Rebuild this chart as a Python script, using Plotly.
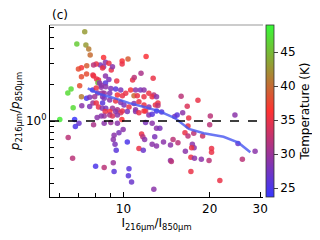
import plotly.graph_objects as go

# intensity ratio I216/I850
x_ratio = [7.33, 6.88, 7.40, 7.57, 7.66, 8.53, 8.66, 8.53, 8.31, 8.04, 7.45, 7.14, 6.97, 8.90, 9.07, 9.16, 9.90, 9.90, 10.38, 12.00,
           7.44, 7.14, 7.87, 8.06, 8.19, 8.15, 8.66, 8.90, 8.66, 8.37, 9.48, 10.77, 10.91, 11.52, 12.70, 7.04, 6.57, 6.40, 7.14, 6.68,
           7.16, 7.63, 7.44, 7.63, 7.81, 8.04, 8.26, 8.37, 8.13, 8.44, 8.46, 7.94, 7.83, 8.04, 8.19, 8.46, 8.44, 7.87, 8.46, 7.83,
           8.68, 9.04, 9.40, 9.79, 10.19, 10.60, 11.03, 11.47, 11.80, 12.27, 12.77, 9.53, 9.92, 10.89, 11.18, 11.80, 12.60, 8.57, 8.96,
           8.57, 8.96, 9.40, 9.79, 10.05, 10.46, 10.89, 11.33, 11.80, 12.27, 12.93, 8.68, 9.16, 9.53, 9.92, 11.03, 11.95,
           8.64, 8.97, 9.40, 9.79, 10.32, 11.03, 11.33, 11.80, 12.27, 12.60, 8.57, 8.96, 9.16, 9.53, 8.57, 9.04, 9.53, 9.88, 11.95, 12.60,
           9.98, 9.65, 9.28, 9.22, 9.35, 9.44, 10.32, 11.57, 11.69, 11.86, 11.33, 11.73, 12.60, 12.86, 9.22, 8.57, 9.28, 10.46, 10.41, 10.68, 12.77,
           6.00, 6.76, 7.00, 6.80, 6.42, 7.87, 8.10, 8.37, 6.65, 8.00,
           15.9, 18.2, 16.7, 13.05, 13.2, 13.2, 13.05, 13.6, 16.1, 20.1, 24.5, 15.1, 15.4, 16.9,
           13.05, 13.4, 16.8, 16.4, 16.8, 17.6, 18.9, 14.9, 13.8, 14.6, 15.5, 17.4, 17.65, 17.3, 13.05, 16.45, 14.6, 14.7, 17.2, 17.7,
           18.7, 19.9, 17.2, 21.7, 20.3, 20.3, 20.0, 25.1, 26.0, 28.8]

# polarization ratio p216/p850
p_ratio = [5.55, 4.38, 4.30, 3.98, 3.55, 3.39, 3.09, 2.83, 2.93, 2.99, 2.89, 2.78, 2.71, 3.03, 2.66, 2.83, 3.16, 2.99, 3.28, 3.44,
           2.46, 2.34, 2.37, 2.24, 2.20, 2.08, 2.37, 2.22, 2.07, 1.91, 2.16, 2.20, 2.31, 2.50, 2.27, 1.97, 1.85, 1.71, 1.59, 1.29,
           1.34, 1.32, 1.55, 1.58, 1.81, 1.88, 2.07, 1.99, 1.71, 1.71, 1.59, 1.59, 1.41, 1.41, 1.31, 1.41, 1.28, 2.93, 2.77, 2.42,
           1.93, 1.87, 1.85, 1.81, 1.70, 1.81, 1.81, 1.81, 1.81, 1.70, 1.65, 1.65, 1.62, 1.62, 1.62, 1.59, 1.59, 1.70, 1.70,
           1.55, 1.50, 1.47, 1.43, 1.36, 1.31, 1.40, 1.45, 1.36, 1.31, 1.36, 1.28, 1.28, 1.24, 1.21, 1.24, 1.21,
           1.20, 1.20, 1.20, 1.17, 1.20, 1.20, 1.17, 1.21, 1.12, 1.14, 1.10, 1.12, 1.10, 1.12, 0.96, 0.97, 0.96, 1.03, 0.97, 0.96,
           0.85, 0.80, 0.76, 0.70, 0.64, 0.57, 0.67, 0.78, 0.74, 0.70, 0.59, 0.57, 0.64, 0.74, 0.45, 0.41, 0.38, 0.40, 0.35, 0.31, 0.27,
           1.03, 1.03, 0.96, 0.90, 0.73, 0.93, 1.07, 1.10, 0.49, 0.42,
           1.61, 1.49, 1.33, 1.59, 1.41, 1.35, 1.21, 1.19, 1.17, 1.10, 1.12, 1.09, 1.12, 1.06,
           0.87, 0.87, 0.91, 0.80, 0.75, 0.79, 0.75, 0.70, 0.67, 0.63, 0.66, 0.64, 0.60, 0.60, 0.62, 0.56, 0.47, 0.46, 0.50, 0.49,
           0.48, 0.47, 0.38, 0.32, 0.59, 0.55, 0.93, 0.65, 0.48, 0.56]

# dust temperature (K)
temp = [43, 46, 43, 41, 40, 36, 29, 29, 28, 35, 39, 36, 38, 35, 35, 29, 36, 35, 39, 36,
        38, 38, 36, 35, 35, 45, 29, 28, 26, 29, 35, 35, 32, 31, 35, 38, 47, 47, 41, 47,
        29, 28, 25, 28, 25, 35, 29, 29, 29, 30, 29, 30, 30, 35, 35, 26, 29, 32, 35, 35,
        29, 28, 26, 28, 35, 36, 29, 28, 29, 35, 32, 36, 35, 40, 35, 35, 35, 30, 28,
        28, 29, 35, 29, 28, 35, 29, 35, 35, 29, 35, 28, 30, 31, 35, 29, 34,
        35, 36, 29, 34, 28, 29, 35, 36, 29, 26, 30, 31, 34, 29, 29, 30, 29, 36, 28, 29,
        29, 28, 29, 29, 28, 26, 25, 35, 32, 29, 35, 27, 29, 28, 30, 32, 26, 26, 26, 27, 29,
        48, 24, 27, 25, 32, 31, 29, 29, 32, 25,
        32, 35, 34, 29, 35, 32, 25, 26, 29, 32, 29, 28, 26, 35,
        29, 28, 35, 35, 32, 32, 33, 32, 29, 29, 32, 29, 29, 35, 29, 29, 29, 32, 35, 29,
        29, 32, 35, 35, 35, 35, 32, 27, 32, 29]

# binned trend line
trend_x = [7.51, 8.26, 9.31, 10.49, 11.82, 13.32, 15.13, 16.92, 19.07, 22.35, 25.19, 27.72]
trend_y = [1.87, 1.68, 1.55, 1.41, 1.31, 1.21, 1.06, 0.86, 0.79, 0.74, 0.66, 0.55]

x_ticks = [10, 20, 30]
x_minor = [6, 7, 8, 9]
y_minor = [0.3, 0.4, 0.5, 0.6, 0.7, 0.8, 0.9, 2, 3, 4, 5, 6]
cbar_ticks = [25, 30, 35, 40, 45]

FONT = "DejaVu Sans"
colorscale = [[0, "rgb(55,55,255)"], [0.5, "rgb(255,50,50)"], [1, "rgb(55,250,55)"]]

fig = go.Figure()
fig.add_trace(go.Scatter(
    x=x_ratio, y=p_ratio, mode="markers",
    marker=dict(size=5.5, color=temp, colorscale=colorscale, cmin=23.7, cmax=49,
                opacity=0.85, line=dict(width=0),
                colorbar=dict(x=1.014, xanchor="left", y=0.5, yanchor="middle",
                              xpad=0, ypad=0,
                              len=1, lenmode="fraction", thickness=8,
                              outlinewidth=0.8, outlinecolor="#333",
                              tickvals=cbar_ticks, ticks="outside", ticklen=4,
                              tickfont=dict(family=FONT, size=12, color="black"),
                              title=dict(text="Temperature (K)", side="right",
                                         font=dict(family=FONT, size=12, color="black")))),
    showlegend=False, hoverinfo="skip"))
fig.add_trace(go.Scatter(
    x=trend_x, y=trend_y, mode="lines",
    line=dict(color="rgba(70,85,240,0.8)", width=2.5),
    showlegend=False, hoverinfo="skip"))
fig.add_hline(y=1, line=dict(color="black", width=1.3, dash="dash"), layer="above")
fig.add_shape(type="line", xref="paper", yref="paper", x0=0, x1=1, y0=1, y1=1,
              line=dict(color="#999", width=1))

fig.add_annotation(text="(c)", xref="paper", yref="paper", x=0, y=1, xanchor="left",
                   yanchor="bottom", yshift=1, showarrow=False,
                   font=dict(family=FONT, size=12, color="black"))

fig.update_xaxes(type="log", range=[0.744, 1.487], showgrid=False, zeroline=False,
                 automargin=False,
                 showline=True, linecolor="black", linewidth=1.2,
                 tickmode="array", tickvals=x_ticks, ticktext=[str(v) for v in x_ticks],
                 ticks="inside", ticklen=5, tickwidth=1, tickcolor="black",
                 minor=dict(tickmode="array", tickvals=x_minor, ticks="inside", ticklen=3.5,
                            tickwidth=1, tickcolor="black", showgrid=False),
                 tickfont=dict(family=FONT, size=12, color="black"),
                 title=dict(text="I<sub>216μm</sub>/I<sub>850μm</sub>", standoff=4,
                            font=dict(family=FONT, size=12, color="black")))
fig.update_yaxes(type="log", range=[-0.633, 0.80], showgrid=False, zeroline=False,
                 automargin=False,
                 showline=True, linecolor="black", linewidth=1.2,
                 tickmode="array", tickvals=[1], ticktext=["10<sup>0</sup>"],
                 ticks="inside", ticklen=5, tickwidth=1, tickcolor="black",
                 minor=dict(tickmode="array", tickvals=y_minor, ticks="inside", ticklen=3.5,
                            tickwidth=1, tickcolor="black", showgrid=False),
                 tickfont=dict(family=FONT, size=12, color="black"),
                 title=dict(text="<i>p</i><sub>216μm</sub>/<i>p</i><sub>850μm</sub>", standoff=4,
                            font=dict(family=FONT, size=12, color="black")))

# the page body adds an 8px offset at top-left, so the figure is 8px smaller
fig.update_layout(width=312, height=232, margin=dict(l=42, r=57, t=17, b=43, autoexpand=False),
                  plot_bgcolor="white", paper_bgcolor="white",
                  font=dict(family=FONT, size=12, color="black"))
fig.write_html("out.html")
